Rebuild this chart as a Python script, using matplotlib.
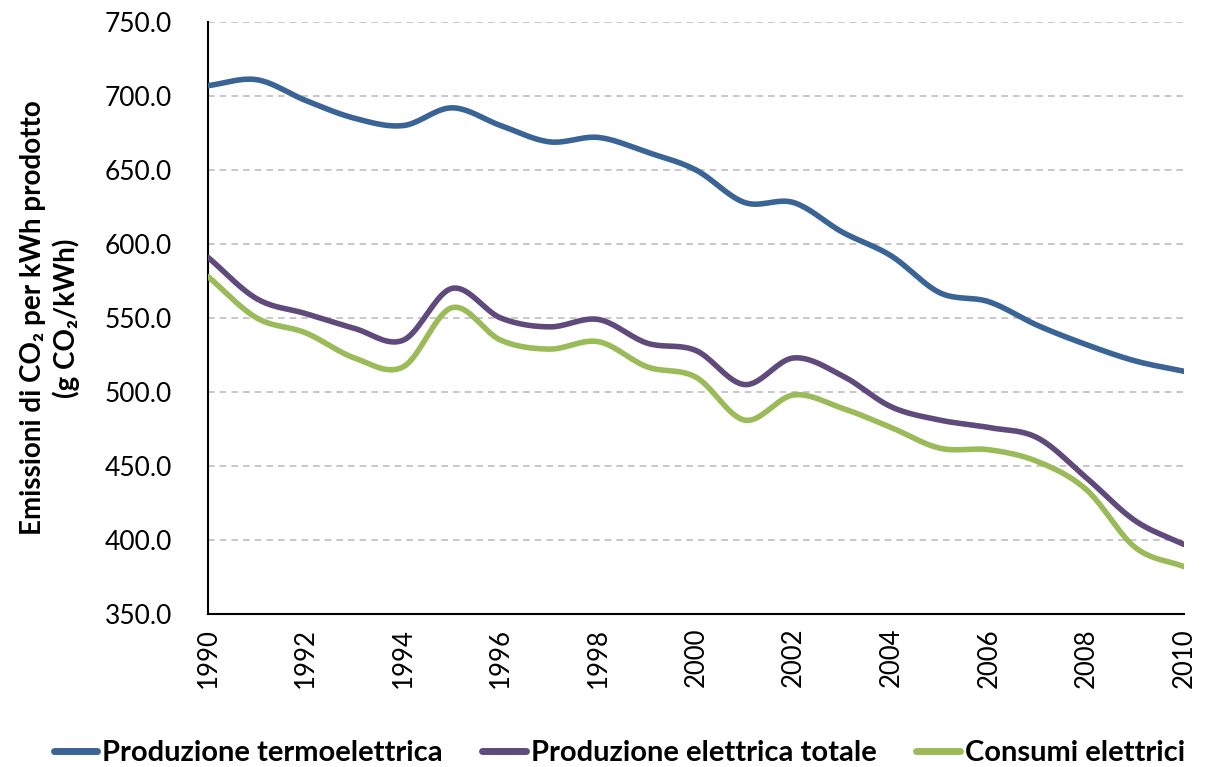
import numpy as np
import matplotlib
matplotlib.use("Agg")
import matplotlib.pyplot as plt

years = list(range(1990, 2011))
termo = [707, 711, 697, 685, 680, 692, 680, 669, 672, 662, 650, 628, 628, 608, 592, 567, 561, 545, 532, 521, 514]
totale = [591, 563, 553, 543, 535, 570, 550, 544, 549, 533, 528, 505, 523, 511, 490, 481, 476, 469, 442, 413, 397]
consumi = [578, 550, 540, 523, 517, 557, 535, 529, 534, 517, 510, 481, 498, 489, 476, 462, 461, 453, 434, 395, 382]
labels = ["Produzione termoelettrica", "Produzione elettrica totale", "Consumi elettrici"]
colors = ["#3A6396", "#604A7B", "#9BBB59"]

plt.rcParams['font.family'] = ['Lato', 'DejaVu Sans']


def smooth(x, y, n=20):
    x = np.asarray(x, float)
    y = np.asarray(y, float)
    px = np.concatenate([[2 * x[0] - x[1]], x, [2 * x[-1] - x[-2]]])
    py = np.concatenate([[2 * y[0] - y[1]], y, [2 * y[-1] - y[-2]]])
    xs, ys = [], []
    for i in range(1, len(px) - 2):
        t = np.linspace(0, 1, n, endpoint=False)
        for arr, out in ((px, xs), (py, ys)):
            p0, p1, p2, p3 = arr[i - 1], arr[i], arr[i + 1], arr[i + 2]
            out.extend(0.5 * ((2 * p1) + (-p0 + p2) * t + (2 * p0 - 5 * p1 + 4 * p2 - p3) * t ** 2
                              + (-p0 + 3 * p1 - 3 * p2 + p3) * t ** 3))
    xs.append(x[-1])
    ys.append(y[-1])
    return np.array(xs), np.array(ys)


fig = plt.figure(figsize=(12.12, 7.67), dpi=100)
ax = fig.add_axes([208 / 1212, 1 - 614 / 767, (1184 - 208) / 1212, (614 - 22) / 767])

for series, lab, c in zip([termo, totale, consumi], labels, colors):
    sx, sy = smooth(years, series)
    ax.plot(sx, sy, color=c, lw=4, label=lab, solid_capstyle='round', zorder=3)

ax.set_xlim(1990, 2010)
ax.set_ylim(350, 750)
ax.set_yticks(np.arange(350, 751, 50))
ax.set_yticklabels([f"{v:.1f}" for v in np.arange(350, 751, 50)], fontsize=19)
ax.set_xticks(range(1990, 2011, 2))
ax.set_xticklabels([str(y) for y in range(1990, 2011, 2)], rotation=90, fontsize=18.5)
ax.tick_params(axis='x', length=0, pad=10)
ax.tick_params(axis='y', length=0, pad=26)
ax.grid(axis='y', color='#BFBFBF', linestyle=(0, (4, 3)), lw=1.2)
ax.set_axisbelow(True)
for s in ['top', 'right']:
    ax.spines[s].set_visible(False)
for s in ['left', 'bottom']:
    ax.spines[s].set_color('black')
    ax.spines[s].set_linewidth(1.5)

ax.set_ylabel("Emissioni di CO₂ per kWh prodotto\n(g CO₂/kWh)", fontsize=20, fontweight='bold', labelpad=18,
              linespacing=1.25)

leg = fig.legend(loc='lower center', bbox_to_anchor=(0.511, -0.033), ncol=3, frameon=False,
                 prop={'size': 21, 'weight': 'bold'}, handlelength=1.5, columnspacing=1.35, handletextpad=0.17)
for h in leg.legend_handles:
    h.set_linewidth(5)

fig.savefig("out.png", dpi=100)
